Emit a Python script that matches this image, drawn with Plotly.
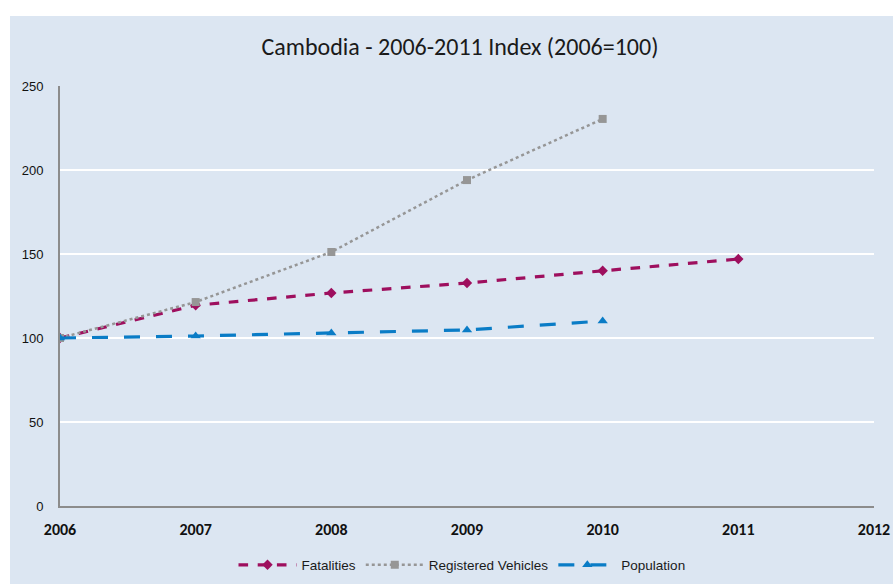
import plotly.graph_objects as go

years = [2006, 2007, 2008, 2009, 2010, 2011]
fatalities = [100, 119.5, 126.8, 132.7, 140.0, 147.0]
vehicles_years = [2006, 2007, 2008, 2009, 2010]
vehicles = [100, 121.4, 151.2, 194.0, 230.4]
population_years = [2006, 2007, 2008, 2009, 2010]
population = [100, 101.2, 103.0, 104.8, 110.1]
x_ticks = [2006, 2007, 2008, 2009, 2010, 2011, 2012]
y_ticks = [0, 50, 100, 150, 200, 250]

BG = "#DCE6F2"
narrow = "Liberation Sans Narrow, Arial Narrow, Liberation Sans, Arial"

fig = go.Figure()
fig.add_trace(go.Scatter(
    x=years, y=fatalities, name="Fatalities", mode="lines+markers",
    line=dict(color="#9E0F5E", width=3.2, dash="dash"),
    marker=dict(symbol="diamond", size=8, color="#9E0F5E")))
fig.add_trace(go.Scatter(
    x=vehicles_years, y=vehicles, name="Registered Vehicles", mode="lines+markers",
    line=dict(color="#969696", width=2.5, dash="dot"),
    marker=dict(symbol="square", size=8, color="#969696")))
fig.add_trace(go.Scatter(
    x=population_years, y=population, name="Population", mode="lines+markers",
    line=dict(color="#0A7CC6", width=3.2, dash="longdash"),
    marker=dict(symbol="triangle-up", size=9, color="#0A7CC6")))

W, H = 893, 584
L, T = 60, 86
R = W - 874
B = H - 506
pw, ph = W - L - R, H - T - B


def px_x(x):
    return (x - L) / pw


def px_y(y):
    return (H - B - y) / ph


fig.add_shape(type="rect", xref="paper", yref="paper", layer="below",
              x0=px_x(10), x1=px_x(900), y0=px_y(600), y1=px_y(16),
              fillcolor=BG, line=dict(width=0))

fig.update_layout(
    width=W, height=H,
    margin=dict(l=L, r=R, t=T, b=B, autoexpand=False),
    paper_bgcolor="white", plot_bgcolor=BG,
    title=dict(text="Cambodia - 2006-2011 Index (2006=100)", x=px_x(460),
               xref="paper", xanchor="center", yref="container", y=1 - 47 / H, yanchor="middle",
               font=dict(family="Carlito, Calibri, Noto Sans, sans-serif", size=24, color="#1a1a1a")),
    showlegend=True,
    legend=dict(orientation="h", x=px_x(462), xanchor="center", y=px_y(565),
                yanchor="middle", bgcolor="rgba(0,0,0,0)", itemwidth=58,
                font=dict(family=narrow, size=13.5, color="#1a1a1a")),
    xaxis=dict(range=[2006, 2012], tickvals=x_ticks, ticktext=[f"<b>{t}</b>" for t in x_ticks],
               showgrid=False, showline=True, linecolor="#8C8C8C", linewidth=2,
               ticks="", zeroline=False, ticklabelstandoff=8,
               tickfont=dict(family="Carlito, Calibri, Liberation Sans, Arial", size=16, color="#111")),
    yaxis=dict(range=[0, 250], tickvals=y_ticks, showgrid=True, gridcolor="white", gridwidth=2,
               showline=True, linecolor="#8C8C8C", linewidth=2, zeroline=False, ticks="",
               ticklabelstandoff=12,
               tickfont=dict(family=narrow, size=13, color="#111")),
)
fig.write_html("out.html", config={"displayModeBar": False},
               post_script="document.body.style.margin='0';document.body.style.overflow='hidden';")
